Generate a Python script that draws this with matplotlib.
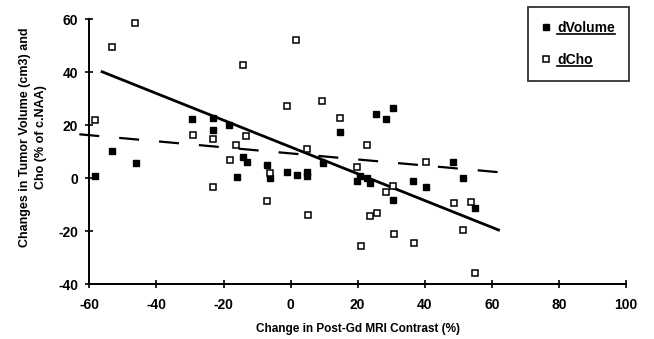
import matplotlib
matplotlib.use("Agg")
import matplotlib.pyplot as plt
from matplotlib.lines import Line2D
import numpy as np

plt.rcParams["font.family"] = ["Liberation Sans", "DejaVu Sans"]
plt.rcParams["font.weight"] = "bold"
plt.rcParams["axes.labelweight"] = "bold"
plt.rcParams["axes.unicode_minus"] = False

# dVolume (filled squares)
vol_x = [-58.3, -53.2, -46.1, -29.3, -23.2, -23.2, -18.3, -14.1, -13.1, -16.1,
         -7.0, -6.1, -1.2, 1.8, 4.8, 4.8, 9.7, 14.7, 25.4, 28.4,
         30.4, 20.7, 19.7, 22.7, 23.8, 30.6, 36.5, 40.5, 48.5, 51.5, 55.0]
vol_y = [0.6, 10.2, 5.6, 22.4, 22.7, 18.2, 20.0, 8.1, 6.2, 0.5,
         5.0, 0.0, 2.4, 1.2, 2.4, 0.6, 5.5, 17.5, 24.2, 22.4,
         26.4, 0.6, -1.3, 0.0, -2.0, -8.3, -1.0, -3.3, 6.2, 0.0, -11.3]

# dCho (open squares)
cho_x = [-46.3, -53.3, -14.3, -58.3, -29.2, -23.2, -13.3, -16.3, -18.1, -23.1,
         -6.1, -6.9, 1.6, -1.2, 9.5, 14.7, 22.7, 4.8, 5.1, 19.7,
         30.6, 28.6, 23.8, 25.8, 30.8, 21.0, 36.8, 40.3, 48.7, 53.7, 51.4, 55.0]
cho_y = [58.6, 49.6, 42.8, 22.0, 16.1, 14.9, 15.9, 12.5, 6.8, -3.3,
         1.9, -8.5, 52.2, 27.1, 29.0, 22.5, 12.5, 10.9, -14.0, 4.2,
         -3.2, -5.1, -14.3, -13.3, -21.0, -25.8, -24.5, 6.2, -9.5, -8.9, -19.5, -35.8]

# fitted lines (end points)
vol_fit_x = [-56.6, 62.4]
vol_fit_y = [40.3, -19.8]
cho_fit_x = [-63.0, 62.0]
cho_fit_y = [16.5, 2.2]

fig = plt.figure(figsize=(6.54, 3.39), dpi=100)
ax = fig.add_axes([0.1367, 0.1622, 0.8203, 0.7817])

ax.plot(vol_fit_x, vol_fit_y, color="black", lw=2.0, solid_capstyle="butt")
ax.plot(cho_fit_x, cho_fit_y, color="black", lw=1.6, dashes=(9, 9), clip_on=False)

ax.plot(vol_x, vol_y, ls="none", marker="s", ms=4.3, mfc="black", mec="black",
        label="dVolume")
ax.plot(cho_x, cho_y, ls="none", marker="s", ms=5.0, mfc="white", mec="black",
        mew=1.1, label="dCho")

ax.set_xlim(-60, 100)
ax.set_ylim(-40, 60)
ax.set_xticks(np.arange(-60, 101, 20))
ax.set_yticks(np.arange(-40, 61, 20))
for s in ("top", "right"):
    ax.spines[s].set_visible(False)
for s in ("left", "bottom"):
    ax.spines[s].set_linewidth(1.4)
ax.tick_params(direction="inout", length=6, width=1.2, labelsize=10)
ax.tick_params(axis="x", pad=7)
ax.tick_params(axis="y", pad=5)

ax.set_xlabel("Change in Post-Gd MRI Contrast (%)", fontsize=8.5, labelpad=8)
fig.text(0.051, 0.596, "Changes in Tumor Volume (cm3) and\nCho (% of c.NAA)",
         rotation=90, ha="center", va="center", fontsize=9, linespacing=1.45,
         multialignment="center")

leg = ax.legend(loc="upper left", bbox_to_anchor=(0.807, 0.979),
                bbox_transform=fig.transFigure, frameon=True, fancybox=False,
                edgecolor="black", fontsize=10, handlelength=0.6,
                handletextpad=0.5, labelspacing=1.3, borderpad=1.0,
                borderaxespad=0, markerscale=1.0)
leg.get_frame().set_linewidth(1.3)

# underline the legend labels
fig.canvas.draw()
renderer = fig.canvas.get_renderer()
inv = fig.transFigure.inverted()
for t in leg.get_texts():
    bb = t.get_window_extent(renderer)
    (x0, y0), (x1, _) = inv.transform([(bb.x0, bb.y0), (bb.x1, bb.y1)])
    fig.add_artist(Line2D([x0, x1], [y0 + 0.002, y0 + 0.002],
                          color="black", lw=1.2, transform=fig.transFigure))

fig.savefig("out.png", dpi=100)
